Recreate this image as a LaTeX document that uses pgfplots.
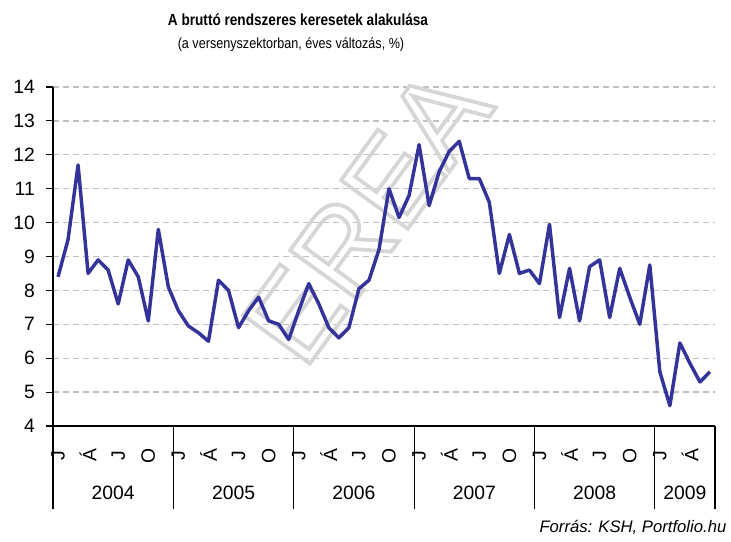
\documentclass[border=0pt]{standalone}
\usepackage{pgfplots}
\pgfplotsset{compat=1.18}
\usepackage{fontspec}
\setmainfont{Liberation Sans}
\definecolor{lineblue}{RGB}{51,51,153}
\definecolor{gridgray}{RGB}{192,192,192}
\definecolor{wmgray}{RGB}{214,214,214}
\newcommand{\outlinetext}[1]{\special{pdf:literal direct 1 Tr 2.8 w}#1\special{pdf:literal direct 0 Tr}}
\begin{document}
\begin{tikzpicture}[x=0.75pt,y=0.75pt]
\path (0,0) rectangle (731,542);
\begin{axis}[
  at={(39.75pt,87pt)}, anchor=south west,
  scale only axis, width=496.5pt, height=254.25pt,
  xmin=-0.5, xmax=65.5, ymin=4, ymax=14,
  ytick={4,5,...,14},
  xtick={0,3,...,63},
  xticklabels={J,Á,J,O,J,Á,J,O,J,Á,J,O,J,Á,J,O,J,Á,J,O,J,Á},
  axis x line*=bottom, axis y line*=left,
  axis line style={-, black, line width=0.8pt},
  tick align=outside,
  major tick length=4.9pt,
  xtick style={draw=none},
  ytick style={black, line width=0.8pt},
  ymajorgrids,
  major grid style={gridgray, line width=1pt, dash pattern=on 4.5pt off 3pt},
  /pgf/number format/assume math mode=true,
  tick label style={font=\fontsize{14.5}{17}\selectfont},
  xticklabel style={anchor=center, yshift=-17.25pt, rotate=90},
  yticklabel style={xshift=-5.25pt},
  clip=false,
]
\node[rotate=54, inner sep=0pt, text=wmgray] at (axis cs:30.78,10.22)
  {\fontsize{90}{90}\selectfont\outlinetext{EREA}};
\addplot[lineblue, line width=2.6pt, line join=round] coordinates {
(0,8.4) (1,9.5) (2,11.7) (3,8.5) (4,8.9) (5,8.6) (6,7.6) (7,8.9) (8,8.4) (9,7.1) (10,9.8) (11,8.1)
(12,7.4) (13,6.95) (14,6.75) (15,6.5) (16,8.3) (17,8.0) (18,6.9) (19,7.4) (20,7.8) (21,7.1) (22,7.0) (23,6.55)
(24,7.4) (25,8.2) (26,7.6) (27,6.9) (28,6.6) (29,6.9) (30,8.05) (31,8.3) (32,9.2) (33,11.0) (34,10.15) (35,10.8)
(36,12.3) (37,10.5) (38,11.5) (39,12.1) (40,12.4) (41,11.3) (42,11.3) (43,10.6) (44,8.5) (45,9.65) (46,8.5) (47,8.6)
(48,8.2) (49,9.95) (50,7.2) (51,8.65) (52,7.1) (53,8.7) (54,8.9) (55,7.2) (56,8.65) (57,7.8) (58,7.0) (59,8.75)
(60,5.6) (61,4.6) (62,6.45) (63,5.85) (64,5.3) (65,5.6)
};
\draw[black, line width=0.8pt] (axis cs:-0.5,4) -- ++(0pt,-62.25pt);
\draw[black, line width=0.8pt] (axis cs:11.5,4) -- ++(0pt,-62.25pt);
\draw[black, line width=0.8pt] (axis cs:23.5,4) -- ++(0pt,-62.25pt);
\draw[black, line width=0.8pt] (axis cs:35.5,4) -- ++(0pt,-62.25pt);
\draw[black, line width=0.8pt] (axis cs:47.5,4) -- ++(0pt,-62.25pt);
\draw[black, line width=0.8pt] (axis cs:59.5,4) -- ++(0pt,-62.25pt);
\draw[black, line width=0.8pt] (axis cs:65.5,4) -- ++(0pt,-62.25pt);
\node[font=\fontsize{14.5}{17}\selectfont] at ([yshift=-50.25pt]axis cs:5.5,4) {2004};
\node[font=\fontsize{14.5}{17}\selectfont] at ([yshift=-50.25pt]axis cs:17.5,4) {2005};
\node[font=\fontsize{14.5}{17}\selectfont] at ([yshift=-50.25pt]axis cs:29.5,4) {2006};
\node[font=\fontsize{14.5}{17}\selectfont] at ([yshift=-50.25pt]axis cs:41.5,4) {2007};
\node[font=\fontsize{14.5}{17}\selectfont] at ([yshift=-50.25pt]axis cs:53.5,4) {2008};
\node[font=\fontsize{14.5}{17}\selectfont] at ([yshift=-50.25pt]axis cs:62.5,4) {2009};
\end{axis}
\node[font=\bfseries\fontsize{12}{14}\selectfont, xscale=0.85] at (298,522.5) {A bruttó rendszeres keresetek alakulása};
\node[font=\fontsize{11}{13}\selectfont, xscale=0.86] at (291,497) {(a versenyszektorban, éves változás, \%)};
\node[font=\itshape\fontsize{12.5}{14}\selectfont, anchor=east] at (731,15) {Forrás: KSH, Portfolio.hu};
\end{tikzpicture}
\end{document}
